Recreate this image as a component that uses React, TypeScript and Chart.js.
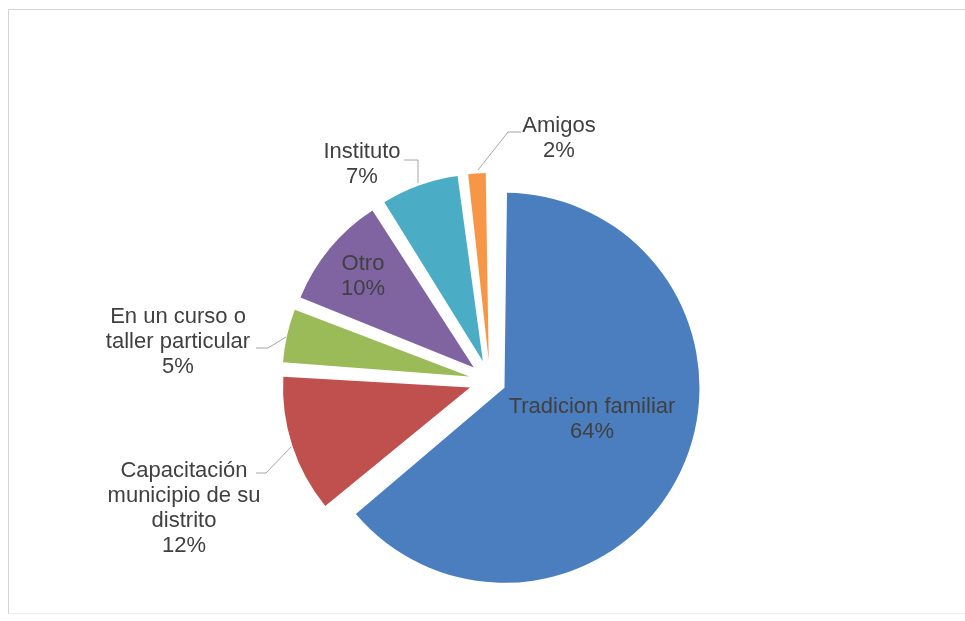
import React, { useEffect, useRef } from "react";
import { Chart, registerables } from "chart.js";

Chart.register(...registerables);

// ---- data ----
const CATEGORIES = [
  "Tradicion familiar",
  "Capacitación municipio de su distrito",
  "En un curso o taller particular",
  "Otro",
  "Instituto",
  "Amigos",
];
const VALUES = [64, 12, 5, 10, 7, 2];
const LABEL_LINES = [
  ["Tradicion familiar"],
  ["Capacitación", "municipio de su", "distrito"],
  ["En un curso o", "taller particular"],
  ["Otro"],
  ["Instituto"],
  ["Amigos"],
];

// ---- styles ----
const COLORS = ["#4A7EBF", "#C0504D", "#9BBB59", "#8064A2", "#4BACC6", "#F79646"];
// Chart.js translates an arc by offset / 4
const OFFSETS = [64, 84, 84, 84, 84, 84];
const RADIUS_SCALE = [1, 0.959, 0.959, 0.959, 0.959, 0.959];
const TEXT_COLOR = "#404040";
const FONT = "22px 'Liberation Sans', Arial, sans-serif";
const LINE_H = 25;
// label placement relative to the pie centre: centre x offset, first baseline y offset
const LABEL_POS = [
  { dx: 102, dy: 32 },
  { dx: -306, dy: 96 },
  { dx: -312, dy: -58 },
  { dx: -127, dy: -111 },
  { dx: -128, dy: -223 },
  { dx: 69, dy: -249 },
];
const LEADERS: (number[][] | null)[] = [
  null,
  [[-234, 92], [-224, 92], [-199, 66]],
  [[-234, -33], [-222, -33], [-204, -44]],
  null,
  [[-86, -221], [-72, -221], [-72, -198]],
  [[31, -249], [18, -249], [-12, -211]],
];

const TOTAL = VALUES.reduce((a, b) => a + b, 0);

const radiusPlugin = {
  id: "radiusPlugin",
  afterDatasetUpdate(chart: any, args: any) {
    const data = args.meta.data;
    if (!data.length) return;
    const base = data[0].outerRadius;
    data.forEach((arc: any, i: number) => {
      const t = OFFSETS[i] / 4;
      const fix = 1 - Math.sin(Math.min(Math.PI, arc.circumference || 0));
      arc.outerRadius = base * RADIUS_SCALE[i] - t * fix;
    });
  },
};

const labelPlugin = {
  id: "labelPlugin",
  afterDatasetsDraw(chart: any) {
    const meta = chart.getDatasetMeta(0);
    if (!meta.data.length) return;
    const cx = meta.data[0].x;
    const cy = meta.data[0].y;
    const ctx = chart.ctx;
    ctx.save();
    ctx.strokeStyle = "#A6A6A6";
    ctx.lineWidth = 1;
    LEADERS.forEach((pts) => {
      if (!pts) return;
      ctx.beginPath();
      pts.forEach((p, j) => {
        const x = cx + p[0];
        const y = cy + p[1];
        if (j === 0) ctx.moveTo(x, y);
        else ctx.lineTo(x, y);
      });
      ctx.stroke();
    });
    ctx.font = FONT;
    ctx.fillStyle = TEXT_COLOR;
    ctx.textAlign = "center";
    ctx.textBaseline = "alphabetic";
    VALUES.forEach((v, i) => {
      const lines = [...LABEL_LINES[i], Math.round((v / TOTAL) * 100) + "%"];
      const pos = LABEL_POS[i];
      lines.forEach((t, k) => {
        ctx.fillText(t, cx + pos.dx, cy + pos.dy + k * LINE_H);
      });
    });
    ctx.restore();
  },
};

export default function App() {
  const ref = useRef<HTMLCanvasElement | null>(null);
  useEffect(() => {
    if (!ref.current) return;
    const chart = new Chart(ref.current, {
      type: "pie",
      data: {
        labels: CATEGORIES,
        datasets: [
          {
            data: VALUES,
            backgroundColor: COLORS,
            borderWidth: 0,
            offset: OFFSETS,
            hoverOffset: 0,
          },
        ],
      },
      options: {
        responsive: false,
        maintainAspectRatio: false,
        animation: false,
        events: [],
        layout: { padding: { left: 253, right: 238, top: 144, bottom: 3 } },
        plugins: {
          legend: { display: false },
          tooltip: { enabled: false },
          title: { display: false },
        },
      },
      plugins: [radiusPlugin, labelPlugin],
    });
    return () => chart.destroy();
  }, []);

  return (
    <div
      style={{
        position: "fixed",
        left: 0,
        top: 0,
        width: 965,
        height: 621,
        background: "#ffffff",
        overflow: "hidden",
      }}
    >
      <div
        style={{
          position: "absolute",
          left: 8,
          top: 9,
          width: 965,
          height: 603,
          borderLeft: "1px solid #D4D4D4",
          borderTop: "1px solid #D4D4D4",
          borderBottom: "1px solid #EEEEEE",
        }}
      />
      <canvas
        ref={ref}
        width={965}
        height={621}
        style={{ position: "absolute", left: 0, top: 0 }}
      />
    </div>
  );
}
